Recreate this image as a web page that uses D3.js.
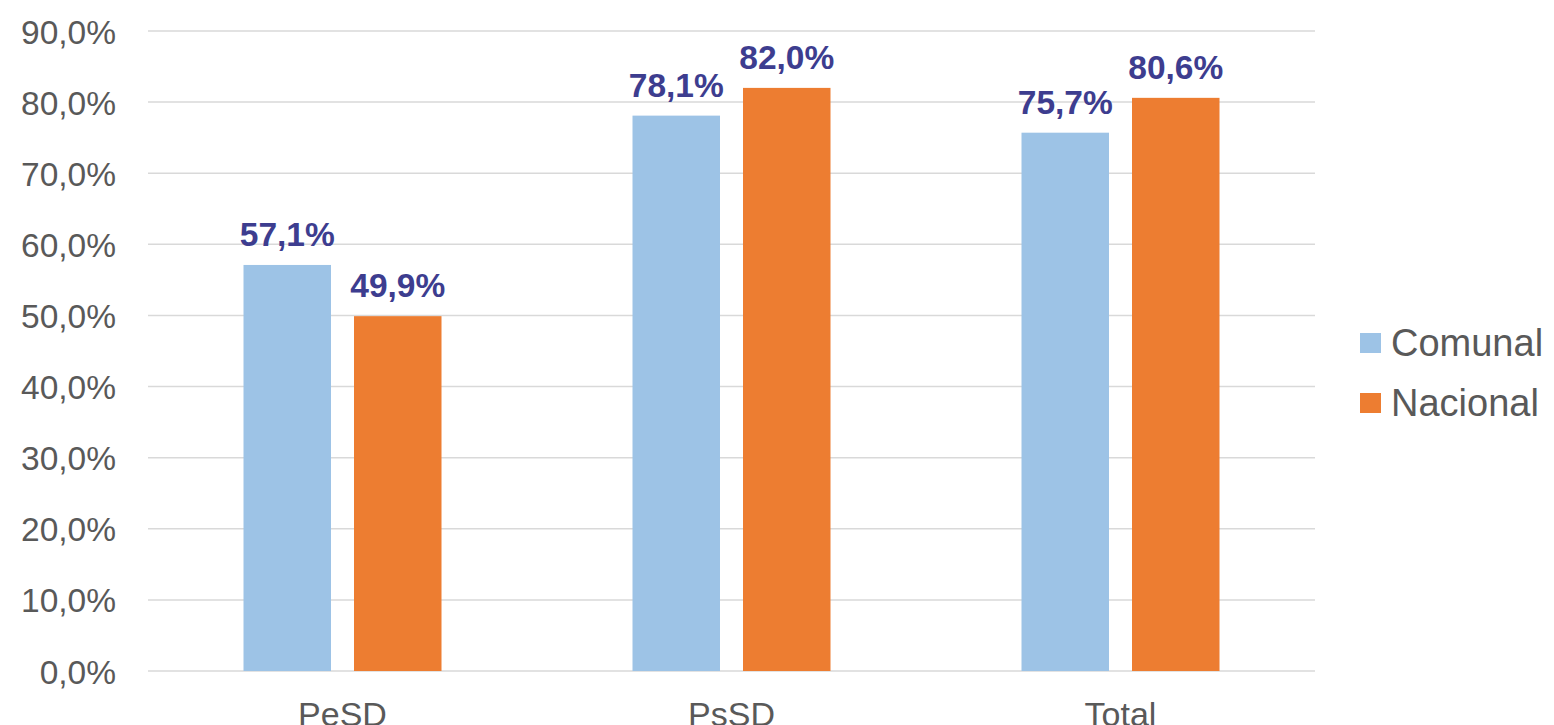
<!DOCTYPE html>
<html>
<head>
<meta charset="utf-8">
<script src="https://cdn.jsdelivr.net/npm/d3@7"></script>
<style>
  body { margin: 0; background: #fff; }
  text { font-family: "Liberation Sans", Arial, sans-serif; }
</style>
</head>
<body>
<div id="chart"></div>
<script>
// Data
const categories = ["PeSD", "PsSD", "Total"]
const seriesNames = ["Comunal", "Nacional"]
const comunal = [57.1, 78.1, 75.7]
const nacional = [49.9, 82.0, 80.6]
const yTicks = [0, 10, 20, 30, 40, 50, 60, 70, 80, 90]
const colors = ["#9dc3e6", "#ed7d31"]

const svgWidth = 1554
const svgHeight = 725

let margin = { top: 31, right: 239, bottom: 54, left: 148 }
let width = svgWidth - margin.left - margin.right
let height = svgHeight - margin.top - margin.bottom

let svg = d3.select("#chart")
  .append("svg")
  .attr("width", svgWidth)
  .attr("height", svgHeight)

let chartGroup = svg.append("g")
  .attr("transform", `translate(${margin.left}, ${margin.top})`)

let xScale = d3.scaleBand()
  .domain(categories)
  .range([0, width])

let yScale = d3.scaleLinear()
  .domain([0, 90])
  .range([height, 0])

// bar sub-positions inside each band
const barW = 87.5
const gap = 23
let xSub = d3.scaleBand()
  .domain(seriesNames)
  .range([0, barW * 2 + gap])
  .paddingInner(gap / (barW + gap))

const fmt = v => d3.format(".1f")(v).replace(".", ",") + "%"

// gridlines
chartGroup.append("g")
  .selectAll("line")
  .data(yTicks)
  .enter()
  .append("line")
  .attr("x1", 0)
  .attr("x2", width)
  .attr("y1", d => yScale(d))
  .attr("y2", d => yScale(d))
  .attr("stroke", "#d9d9d9")
  .attr("stroke-width", 1.5)

// y axis labels
let yAxis = chartGroup.append("g")
  .call(d3.axisLeft(yScale).tickValues(yTicks).tickFormat(fmt).tickSize(0).tickPadding(32))
yAxis.select(".domain").remove()
yAxis.selectAll("text")
  .style("font-size", "33.5px")
  .attr("fill", "#595959")
  .attr("dy", "0.36em")

// x axis labels
let xAxis = chartGroup.append("g")
  .attr("transform", `translate(0, ${height})`)
  .call(d3.axisBottom(xScale).tickSize(0).tickPadding(31))
xAxis.select(".domain").remove()
xAxis.selectAll("text")
  .style("font-size", "34px")
  .attr("fill", "#595959")

let rows = categories.map((c, i) => ({
  cat: c,
  values: [
    { name: seriesNames[0], value: comunal[i] },
    { name: seriesNames[1], value: nacional[i] }
  ]
}))

let groups = chartGroup.selectAll(".cat")
  .data(rows)
  .enter()
  .append("g")
  .attr("class", "cat")
  .attr("transform", d => `translate(${xScale(d.cat) + xScale.bandwidth() / 2 - (barW * 2 + gap) / 2}, 0)`)

groups.selectAll("rect")
  .data(d => d.values)
  .enter()
  .append("rect")
  .attr("x", d => xSub(d.name))
  .attr("y", d => yScale(d.value))
  .attr("width", xSub.bandwidth())
  .attr("height", d => height - yScale(d.value))
  .attr("fill", (d, i) => colors[i])

groups.selectAll("text")
  .data(d => d.values)
  .enter()
  .append("text")
  .attr("x", d => xSub(d.name) + xSub.bandwidth() / 2)
  .attr("y", d => yScale(d.value) - 19)
  .attr("text-anchor", "middle")
  .style("font-size", "33.5px")
  .style("font-weight", "bold")
  .attr("fill", "#3d3d8f")
  .text(d => fmt(d.value))

// legend
let legend = svg.append("g")
  .attr("transform", "translate(1360, 333)")

seriesNames.forEach((name, i) => {
  legend.append("rect")
    .attr("x", 0)
    .attr("y", i * 60)
    .attr("width", 21)
    .attr("height", 20)
    .attr("fill", colors[i])
  legend.append("text")
    .attr("x", 31)
    .attr("y", i * 60 + 23)
    .style("font-size", "38px")
    .attr("fill", "#595959")
    .text(name)
})
</script>
</body>
</html>
